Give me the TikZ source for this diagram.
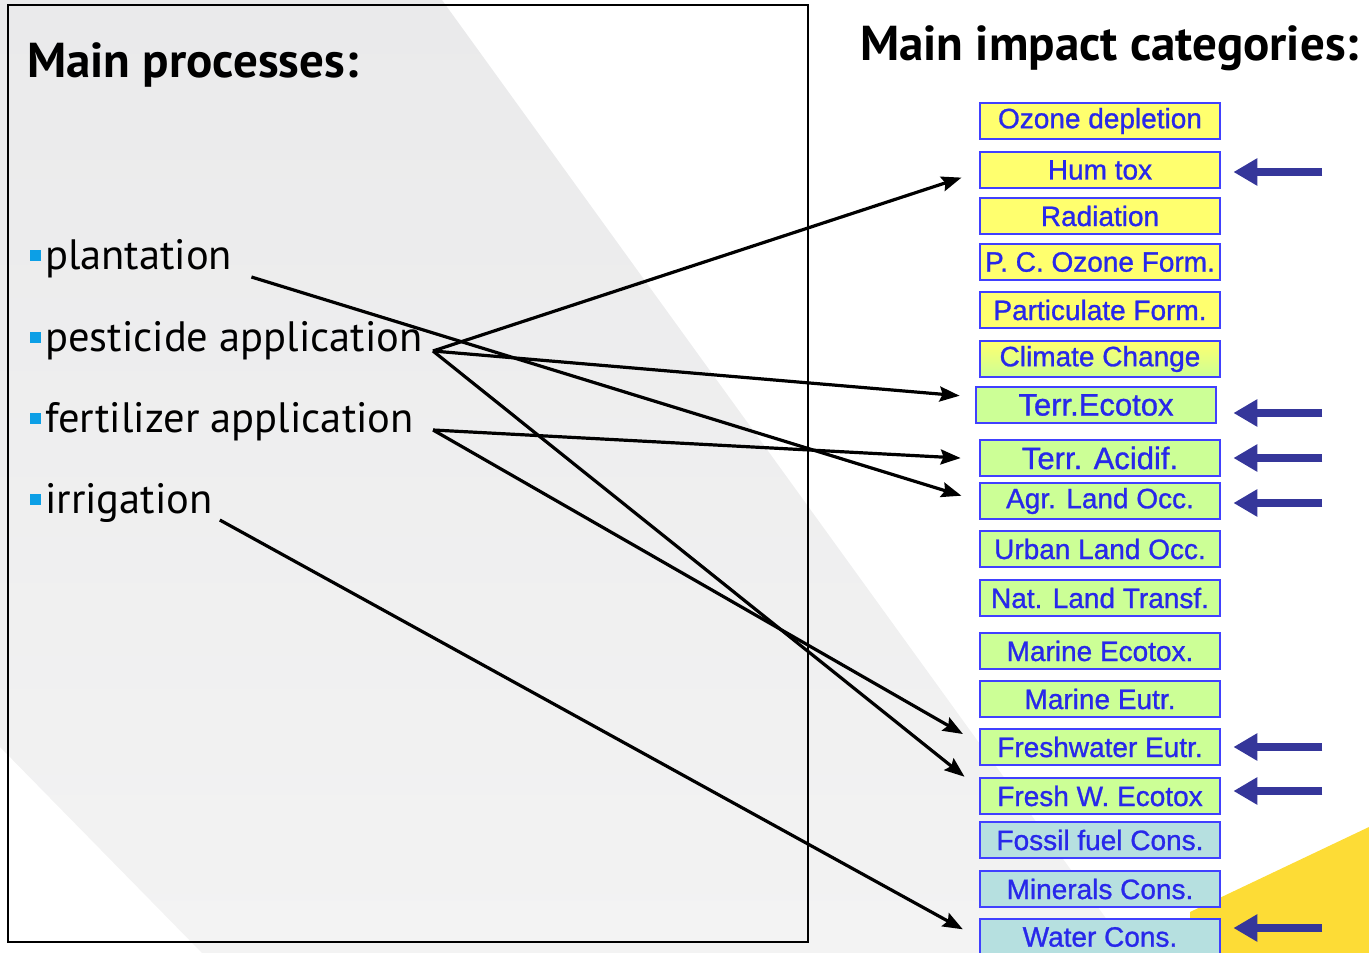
\documentclass[tikz,border=0pt]{standalone}
\usepackage{fontspec}
\setmainfont{PT Sans}
\newfontfamily\catfont{Liberation Sans}[FakeBold=1]
\usetikzlibrary{arrows.meta}

\definecolor{catblue}{HTML}{2828EA}
\definecolor{catborder}{HTML}{4040FF}
\definecolor{catyellow}{HTML}{FFFF6E}
\definecolor{catgreen}{HTML}{CCFF96}
\definecolor{catteal}{HTML}{B6E0E0}
\definecolor{hitblue}{HTML}{35369A}
\definecolor{bulletblue}{HTML}{0C9FE6}
\definecolor{bandtop}{HTML}{EAEAEB}
\definecolor{bandbottom}{HTML}{F3F3F3}
\definecolor{corneryellow}{HTML}{FDDC36}

\newcommand{\procmark}{\textcolor{bulletblue}{\rule[8pt]{11pt}{11pt}}\hspace{4pt}}

\begin{document}
\begin{tikzpicture}[x=1pt,y=-1pt,
    cat/.style={draw=catborder, line width=2.8pt, text=catblue, minimum width=240pt,
      minimum height=36pt, inner sep=0pt, font=\catfont\fontsize{28}{30}\selectfont},
    bigcat/.style={cat, font=\catfont\fontsize{31}{33}\selectfont},
    proc/.style={anchor=base west, inner sep=0pt, font=\fontsize{42.5}{46}\selectfont},
    title/.style={anchor=base west, inner sep=0pt, font=\bfseries\fontsize{49}{52}\selectfont},
    link/.style={line width=3.2pt, -{Stealth[length=20pt,width=15pt,inset=3pt]}, shorten >=18pt},
    hitarrow/.style={draw=hitblue, line width=8pt, -{Triangle[length=24pt,width=26pt]}, shorten >=12pt}]
    \useasboundingbox (0,0) rectangle (1369,953);

    % background
    \shade[top color=bandtop, bottom color=bandbottom]
      (0,0) -- (442,0) -- (1131,953) -- (202,953) -- (0,747) -- cycle;
    \fill[corneryellow] (1190,912) -- (1369,827) -- (1369,953) -- (1190,953) -- cycle;
    \draw[line width=1.5pt] (8,5) rectangle (808,942);

    \node[title] (ptitle) at (27,77) {Main processes:};
    \node[title] (ctitle) at (860,60) {Main impact categories:};

    \node[proc] (plant) at (30,269) {\procmark plantation};
    \node[proc] (pest) at (30,351) {\procmark pesticide application};
    \node[proc] (fert) at (30,432) {\procmark fertilizer application};
    \node[proc] (irrig) at (30,513) {\procmark irrigation};

    \node[cat, fill=catyellow] (ozone) at (1100,121) {Ozone depletion};
    \node[cat, fill=catyellow] (humtox) at (1100,170) {Hum tox};
    \node[cat, fill=catyellow] (radiation) at (1100,216) {Radiation};
    \node[cat, fill=catyellow] (pcozone) at (1100,262) {P. C. Ozone Form.};
    \node[cat, fill=catyellow] (partic) at (1100,310) {Particulate Form.};
    \node[cat, top color=catyellow, bottom color=catgreen] (climate) at (1100,359) {Climate Change};
    \node[bigcat, fill=catgreen] (terreco) at (1096,405) {Terr.Ecotox};
    \node[bigcat, fill=catgreen] (terracid) at (1100,458) {Terr. Acidif.};
    \node[cat, fill=catgreen] (agrland) at (1100,501) {Agr. Land Occ.};
    \node[cat, fill=catgreen] (urbland) at (1100,549) {Urban Land Occ.};
    \node[cat, fill=catgreen] (natland) at (1100,598) {Nat. Land Transf.};
    \node[cat, fill=catgreen] (marineco) at (1100,651) {Marine Ecotox.};
    \node[cat, fill=catgreen] (marineutr) at (1100,699) {Marine Eutr.};
    \node[cat, fill=catgreen] (fresheutr) at (1100,747) {Freshwater Eutr.};
    \node[cat, fill=catgreen] (fresheco) at (1100,796) {Fresh W. Ecotox};
    \node[cat, fill=catteal] (fossil) at (1100,840) {Fossil fuel Cons.};
    \node[cat, fill=catteal] (minerals) at (1100,889) {Minerals Cons.};
    \node[cat, fill=catteal] (water) at (1100,937) {Water Cons.};

    \draw[link] ([xshift=19pt,yshift=-8pt]plant.base east) -- (agrland.west);
    \draw[link] ([xshift=10pt]pest.base east) -- ([yshift=-2pt]humtox.west);
    \draw[link, shorten >=15pt] ([xshift=10pt]pest.base east) -- ([yshift=8pt]terreco.west);
    \draw[link] ([xshift=10pt]pest.base east) -- ([yshift=8pt]fresheco.west);
    \draw[link] ([xshift=19pt,yshift=2pt]fert.base east) -- ([yshift=-1pt]terracid.west);
    \draw[link] ([xshift=19pt,yshift=2pt]fert.base east) -- ([yshift=4pt]fresheutr.west);
    \draw[link] ([xshift=7pt,yshift=-7pt]irrig.base east) -- ([yshift=-1pt]water.west);

    \draw[hitarrow] ([xshift=101pt,yshift=-2pt]humtox.east) -- ([yshift=-2pt]humtox.east);
    \draw[hitarrow, shorten >=16pt] ([xshift=105pt,yshift=-8pt]terreco.east) -- ([yshift=-8pt]terreco.east);
    \draw[hitarrow] ([xshift=101pt]terracid.east) -- (terracid.east);
    \draw[hitarrow] ([xshift=101pt,yshift=-2pt]agrland.east) -- ([yshift=-2pt]agrland.east);
    \draw[hitarrow] ([xshift=101pt]fresheutr.east) -- (fresheutr.east);
    \draw[hitarrow] ([xshift=101pt,yshift=5pt]fresheco.east) -- ([yshift=5pt]fresheco.east);
    \draw[hitarrow] ([xshift=101pt,yshift=9pt]water.east) -- ([yshift=9pt]water.east);
\end{tikzpicture}
\end{document}
